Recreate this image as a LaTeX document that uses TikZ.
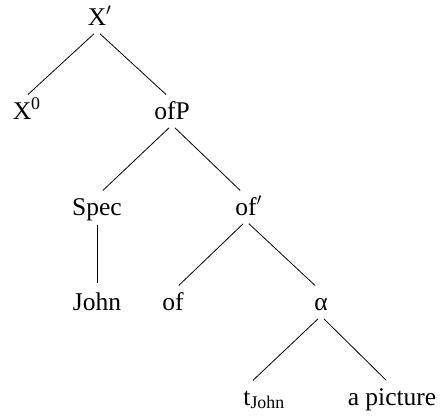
\documentclass[tikz,border=0pt]{standalone}
\usepackage{fontspec}
\setmainfont{Liberation Serif}
\begin{document}
\begin{tikzpicture}[x=1pt,y=-1pt,
  lbl/.style={anchor=base,inner sep=0pt,outer sep=0pt,text height=19pt,text depth=6pt,font=\fontsize{25.5}{30}\selectfont},
  edge/.style={line width=0.8pt,shorten <=4pt,shorten >=8pt}]
\useasboundingbox (0,0) rectangle (441,418);
\node[lbl] (xbar) at (97,25) {X\rlap{$'$}};
\node[lbl] (x0) at (22,119) {X\rlap{\textsuperscript{0}}};
\node[lbl] (ofp) at (172,119) {ofP};
\node[lbl] (spec) at (97,215) {Spec};
\node[lbl] (ofbar) at (246,215) {of\rlap{$'$}};
\node[lbl] (john) at (97,310) {John};
\node[lbl] (of) at (173,310) {of};
\node[lbl] (alpha) at (321,310) {α};
\node[lbl] (t) at (247,405) {t\rlap{\textsubscript{John}}};
\node[lbl] (pic) at (392,405) {a picture};
\draw[edge] (xbar.south) -- (x0.north);
\draw[edge] (xbar.south) -- (ofp.north);
\draw[edge] (ofp.south) -- (spec.north);
\draw[edge] (ofp.south) -- (ofbar.north);
\draw[edge] (spec.south) -- (john.north);
\draw[edge] (ofbar.south) -- (of.north);
\draw[edge] (ofbar.south) -- (alpha.north);
\draw[edge] (alpha.south) -- (t.north);
\draw[edge] (alpha.south) -- (pic.north);
\end{tikzpicture}
\end{document}
